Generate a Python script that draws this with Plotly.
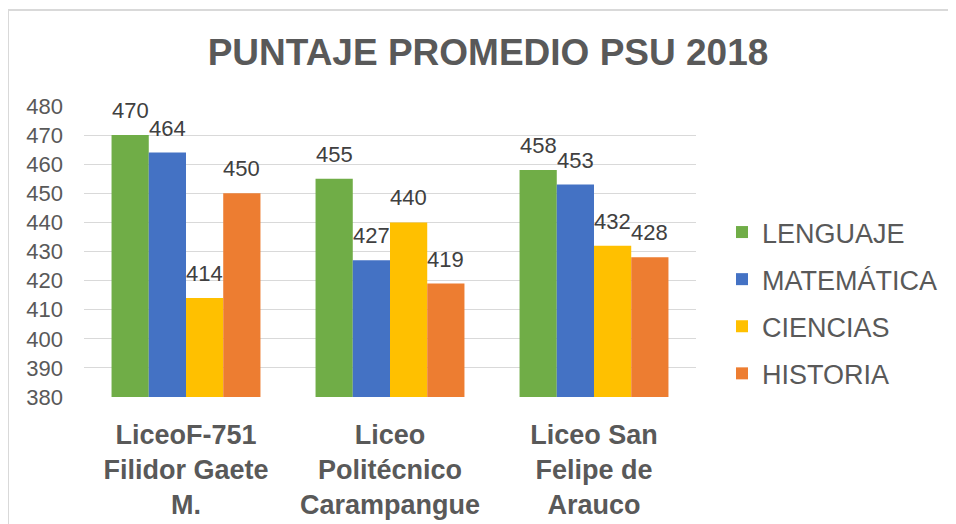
import plotly.graph_objects as go

categories = ["LiceoF-751<br>Filidor Gaete<br>M.", "Liceo<br>Politécnico<br>Carampangue", "Liceo San<br>Felipe de<br>Arauco"]
series_names = ["LENGUAJE", "MATEMÁTICA", "CIENCIAS", "HISTORIA"]
lenguaje = [470, 455, 458]
matematica = [464, 427, 453]
ciencias = [414, 440, 432]
historia = [450, 419, 428]
y_ticks = [380, 390, 400, 410, 420, 430, 440, 450, 460, 470, 480]

colors = ["#70AD47", "#4472C4", "#FFC000", "#ED7D31"]
values = [lenguaje, matematica, ciencias, historia]

FONT = "Arial, 'Liberation Sans', sans-serif"

# page body has an 8px margin: work in screen coordinates then subtract it
OFF = 8
SW, SH = 956, 524
W, H = SW - OFF, SH - OFF
px_left, px_right, px_top, px_bot = 84, 696, 106, 397  # plot area in screen px
L = px_left - OFF
R = W - (px_right - OFF)
T = px_top - OFF
B = H - (px_bot - OFF)
pw, ph = W - L - R, H - T - B

BARGAP = 0.27
bar_w = pw / len(categories) * (1 - BARGAP) / len(series_names)


def sx(x):  # screen x -> paper
    return (x - OFF - L) / pw


def sy(y):  # screen y -> paper
    return (H - B - (y - OFF)) / ph


fig = go.Figure()
annotations = []
for i, (name, vals, col) in enumerate(zip(series_names, values, colors)):
    fig.add_trace(go.Bar(
        x=categories, y=vals, name=name, legendgroup=name,
        marker=dict(color=col, line=dict(width=0)),
    ))
    for c, v in zip(categories, vals):
        annotations.append(dict(
            x=c, y=v, xref="x", yref="y", text=str(v), showarrow=False,
            xanchor="center", yanchor="bottom",
            xshift=(i - (len(series_names) - 1) / 2) * bar_w, yshift=10,
            font=dict(family=FONT, size=22, color="#404040"),
        ))

fig.update_layout(
    width=W, height=H,
    margin=dict(l=L, r=R, t=T, b=B, autoexpand=False),
    paper_bgcolor="white", plot_bgcolor="white",
    barmode="group", bargap=BARGAP, bargroupgap=0,
    title=dict(text="<b>PUNTAJE PROMEDIO PSU 2018</b>", x=(488 - OFF) / W, xanchor="center",
               y=1 - (52 - OFF) / H, yanchor="middle",
               font=dict(family=FONT, size=37, color="#595959")),
    legend=dict(x=sx(722), xanchor="left", y=sy(303), yanchor="middle",
                font=dict(family=FONT, size=27, color="#595959"),
                traceorder="grouped", tracegroupgap=9, bgcolor="rgba(0,0,0,0)"),
    xaxis=dict(showgrid=False, showline=False, zeroline=False, ticks="",
               tickfont=dict(family=FONT, size=27, color="#595959", weight="bold"),
               tickangle=0, ticklabelstandoff=19),
    yaxis=dict(range=[380, 480], tickvals=y_ticks, showgrid=True, gridcolor="#D9D9D9",
               gridwidth=1, zeroline=False, showline=False, ticks="",
               tickfont=dict(family=FONT, size=22, color="#595959"), ticklabelstandoff=20),
    annotations=annotations,
    shapes=[
        dict(type="line", xref="paper", yref="paper",
             x0=sx(8), x1=sx(SW + 5), y0=sy(10), y1=sy(10),
             line=dict(color="#D9D9D9", width=2)),
        dict(type="line", xref="paper", yref="paper",
             x0=sx(8), x1=sx(8), y0=sy(10), y1=sy(SH + 5),
             line=dict(color="#D9D9D9", width=2)),
    ],
)

fig.write_html("out.html")
